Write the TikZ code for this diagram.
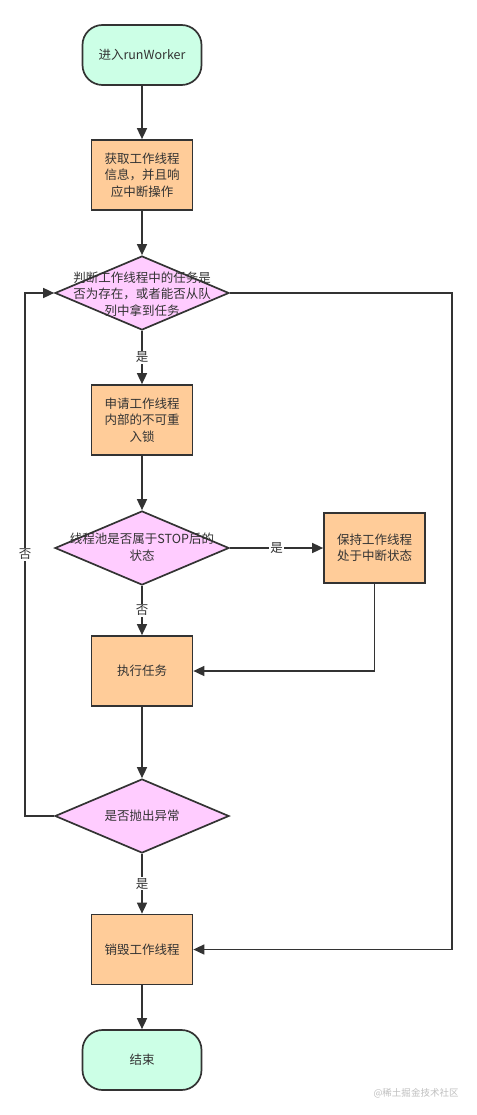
\documentclass[tikz,border=0pt]{standalone}
\usepackage{fontspec}
\setmainfont{Noto Sans CJK SC}
\usetikzlibrary{shapes.geometric,arrows.meta}
\definecolor{mymint}{HTML}{CCFFE6}
\definecolor{myorange}{HTML}{FFCC99}
\definecolor{mypink}{HTML}{FFCCFF}
\definecolor{myline}{HTML}{333333}
\tikzset{
  chfont/.style={text=myline,font=\fontsize{12.5pt}{16.5pt}\selectfont,align=center},
  termbox/.style={draw=myline,line width=1.7pt,fill=mymint,rounded corners=20pt,minimum width=119pt,minimum height=60pt,chfont},
  workbox/.style={draw=myline,line width=1.7pt,fill=myorange,minimum width=101pt,minimum height=70pt,chfont},
  decision/.style={draw=myline,line width=1.7pt,fill=mypink,diamond,minimum width=174pt,minimum height=74pt,inner sep=0pt},
  flow/.style={draw=myline,line width=1.6pt,-{Triangle[length=11pt,width=10pt]}},
  yesno/.style={fill=white,inner sep=1pt,chfont}
}

\begin{document}
\begin{tikzpicture}[x=1pt,y=-1pt]
    \useasboundingbox (0,0) rectangle (476,1115);

    % main column
    \node[termbox](start) at (142,55) {进入runWorker};
    \node[workbox](getinfo) at (142,175) {获取工作线程\\信息，并且响\\应中断操作};
    \node[decision](hastask) at (142,293) {};
    \node[chfont](hastasktxt) at (142,294) {判断工作线程中的任务是\\否为存在，或者能否从队\\列中拿到任务};
    \node[workbox](lock) at (142,420) {申请工作线程\\内部的不可重\\入锁};
    \node[decision](isstop) at (142,548) {};
    \node[chfont](isstoptxt) at (142,547) {线程池是否属于STOP后的\\状态};
    \node[workbox](keepint) at (374.5,548) {保持工作线程\\处于中断状态};
    \node[workbox](runtask) at (142,671) {执行任务};
    \node[decision](isexc) at (142,816) {};
    \node[chfont](isexctxt) at (142,816) {是否抛出异常};
    \node[workbox](destroy) at (142,949.5) {销毁工作线程};
    \node[termbox](finish) at (142,1060) {结束};

    % loop corners
    \coordinate (loopL) at (25,816);
    \coordinate (loopR) at (452,293);

    \draw [flow] (start) -- (getinfo);
    \draw [flow] (getinfo) -- (hastask);
    \draw [flow] (hastask) -- node[yesno] {是} (lock);
    \draw [flow] (lock) -- (isstop);
    \draw [flow] (isstop.east) -- node[yesno] {是} (keepint.west);
    \draw [flow] (isstop) -- node[yesno] {否} (runtask);
    \draw [flow] (keepint.south) |- (runtask.east);
    \draw [flow] (runtask) -- (isexc);
    \draw [flow] (isexc) -- node[yesno] {是} (destroy);
    \draw [flow] (destroy) -- (finish);
    \draw [flow] (isexc.west) -- (loopL) -- node[yesno] {否} (loopL |- hastask.west) -- (hastask.west);
    \draw [flow] (hastask.east) -- (loopR) |- (destroy.east);

    % watermark
    \node[text=black!25,font=\fontsize{9.5pt}{11pt}\selectfont](mark) at (416,1093) {@稀土掘金技术社区};

\end{tikzpicture}
\end{document}
